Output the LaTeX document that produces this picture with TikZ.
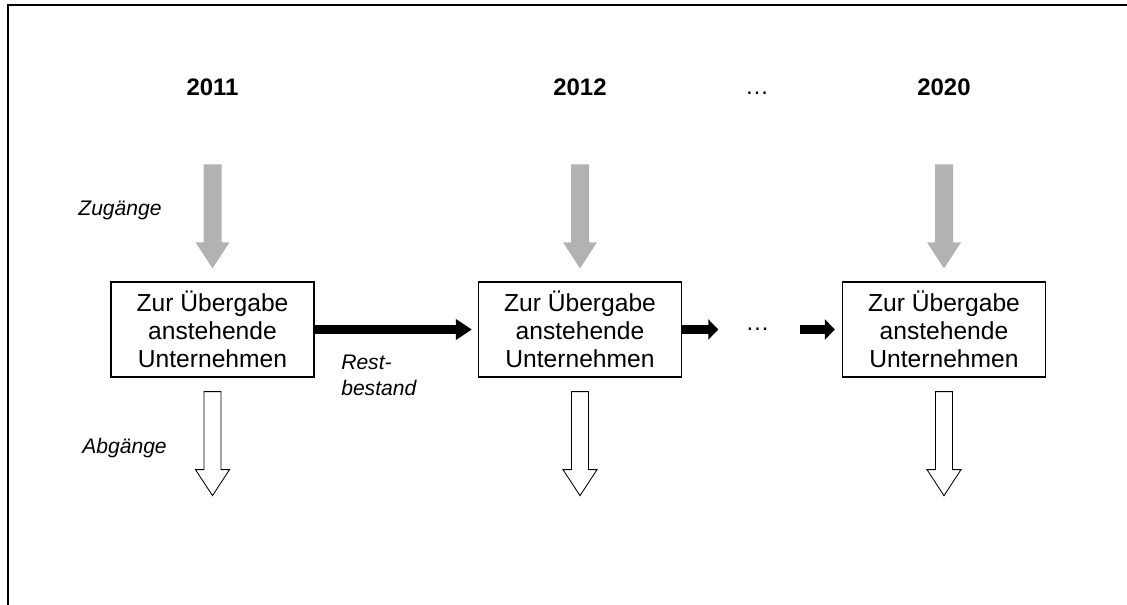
\documentclass[tikz,border=0pt]{standalone}
\usepackage{fontspec}
\setmainfont{Liberation Sans}
\usetikzlibrary{arrows.meta,positioning,calc}
\definecolor{zugrau}{RGB}{178,178,178}
\tikzset{
  bestandbox/.style={draw, line width=0.9pt, align=center, inner sep=0pt,
    font=\fontsize{17.5}{20}\selectfont, minimum width=5.075cm, minimum height=2.375cm},
  jahrlabel/.style={font=\fontsize{17}{20}\selectfont\bfseries, anchor=base},
  flusslabel/.style={font=\fontsize{15}{18.5}\selectfont\itshape, align=left, inner sep=0pt},
  restpfeil/.style={-{Triangle[length=0.4cm, width=0.5cm]}, line width=0.225cm},
  kurzpfeil/.style={-{Triangle[length=0.25cm, width=0.5cm]}, line width=0.225cm},
  zupfeil/.style={fill=zugrau, draw=none},
  abpfeil/.style={fill=white, draw=black, line width=0.6pt}
}

\begin{document}
\begin{tikzpicture}[x=0.025cm, y=0.025cm]
    \useasboundingbox (0,0) rectangle (1127,-605);
    \draw[line width=1.4pt] (8,-605) -- (8,-5) -- (1127,-5);

    \node[bestandbox] (b1) at (212.5,-329.5) {Zur Übergabe\\anstehende\\Unternehmen};
    \node[bestandbox] (b2) at (580,-329.5) {Zur Übergabe\\anstehende\\Unternehmen};
    \node[bestandbox] (b3) at (944,-329.5) {Zur Übergabe\\anstehende\\Unternehmen};

    \node[jahrlabel] (j1) at (212.5,-95) {2011};
    \node[jahrlabel] (j2) at (580,-95) {2012};
    \node[jahrlabel, font=\fontsize{17}{20}\selectfont] (jpunkte) at (757,-94) {\dots};
    \node[jahrlabel] (j3) at (944,-95) {2020};

    \node[flusslabel] (zu) at (120,-210) {Zugänge};
    \node[flusslabel] (ab) at (124.5,-448) {Abgänge};
    \node[flusslabel, anchor=west] (rest) at (341,-375.5) {Rest-\\bestand};

    \node[inner sep=0pt, font=\fontsize{17}{20}\selectfont] (mpunkte) at (757.5,-329.5) {\dots};
    \coordinate[left=0.675cm of mpunkte] (lspitze);
    \coordinate[right=0.75cm of mpunkte] (rstart);

    \draw[restpfeil, shorten >=0.15cm] (b1.east) -- (b2.west);
    \draw[kurzpfeil] (b2.east) -- (b2.east -| lspitze);
    \draw[kurzpfeil, shorten >=0.175cm] (b3.west -| rstart) -- (b3.west);

    \fill[zupfeil] ($(b1.north)+(0,13)$) -- ++(-17,26) -- ++(8,0) -- ++(0,78) -- ++(18,0) -- ++(0,-78) -- ++(8,0) -- cycle;
    \fill[zupfeil] ($(b2.north)+(0,13)$) -- ++(-17,26) -- ++(8,0) -- ++(0,78) -- ++(18,0) -- ++(0,-78) -- ++(8,0) -- cycle;
    \fill[zupfeil] ($(b3.north)+(0,13)$) -- ++(-17,26) -- ++(8,0) -- ++(0,78) -- ++(18,0) -- ++(0,-78) -- ++(8,0) -- cycle;
    \draw[abpfeil] ($(b1.south)+(0,-118)$) -- ++(-17,26) -- ++(8.5,0) -- ++(0,78) -- ++(17,0) -- ++(0,-78) -- ++(8.5,0) -- cycle;
    \draw[abpfeil] ($(b2.south)+(0,-118)$) -- ++(-17,26) -- ++(8.5,0) -- ++(0,78) -- ++(17,0) -- ++(0,-78) -- ++(8.5,0) -- cycle;
    \draw[abpfeil] ($(b3.south)+(0,-118)$) -- ++(-17,26) -- ++(8.5,0) -- ++(0,78) -- ++(17,0) -- ++(0,-78) -- ++(8.5,0) -- cycle;
  \end{tikzpicture}
\end{document}
